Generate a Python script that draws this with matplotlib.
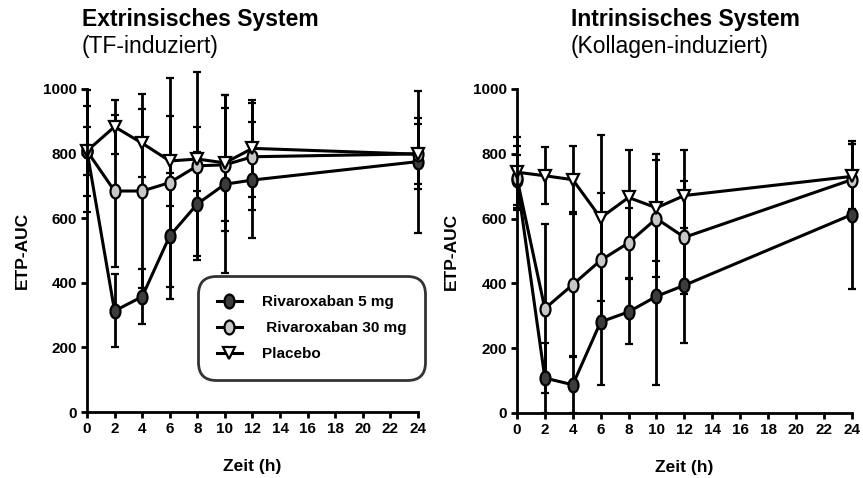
import numpy as np
import matplotlib
matplotlib.use("Agg")
import matplotlib.pyplot as plt
from matplotlib.path import Path
from matplotlib.transforms import Affine2D
from matplotlib.lines import Line2D

plt.rcParams['font.family'] = ['Liberation Sans', 'DejaVu Sans']

# Zeitpunkte (h)
times = [0, 2, 4, 6, 8, 10, 12, 24]

# Extrinsisches System (TF-induziert)
ext_5mg = [808, 313, 357, 545, 644, 705, 718, 775]
ext_5mg_sd = [190, 113, 85, 195, 160, 275, 180, 220]
ext_30mg = [808, 684, 684, 710, 762, 765, 790, 799]
ext_30mg_sd = [140, 235, 300, 323, 290, 175, 165, 110]
ext_placebo = [808, 883, 832, 777, 783, 771, 816, 798]
ext_placebo_sd = [75, 83, 105, 140, 100, 210, 150, 93]

# Intrinsisches System (Kollagen-induziert)
int_5mg = [720, 108, 87, 281, 312, 360, 394, 612]
int_5mg_sd = [77, 108, 88, 195, 100, 275, 177, 228]
int_30mg = [725, 322, 396, 471, 525, 600, 542, 720]
int_30mg_sd = [98, 260, 224, 208, 108, 180, 175, 110]
int_placebo = [743, 732, 720, 602, 665, 633, 671, 730]
int_placebo_sd = [110, 88, 105, 257, 145, 165, 140, 100]

series_labels = ['Rivaroxaban 5 mg', ' Rivaroxaban 30 mg', 'Placebo']

# vertically stretched circle marker
ellipse = Path.unit_circle().transformed(Affine2D().scale(0.72, 1.0))
styles = [
    dict(marker=ellipse, mfc='#3c3c3c', ms=10),
    dict(marker=ellipse, mfc='#c8c8c8', ms=10),
    dict(marker='v', mfc='white', ms=8),
]


def draw_panel(ax, data, title, subtitle, title_x):
    for (vals, sd), st, lab in zip(data, styles, series_labels):
        h = ax.errorbar(times, vals, yerr=sd, color='black', lw=2.2,
                        elinewidth=2, capsize=3, capthick=2,
                        mec='black', mew=1.6, label=lab, **st)
        h.lines[0].set_clip_on(False)
        for art in tuple(h.lines[1]) + tuple(h.lines[2]):
            art.set_clip_on(False)

    ax.set_xlim(0, 24)
    ax.set_ylim(0, 1000)
    ax.set_xticks(range(0, 25, 2))
    ax.set_yticks(range(0, 1001, 200))
    for s in ['top', 'right']:
        ax.spines[s].set_visible(False)
    for s in ['left', 'bottom']:
        ax.spines[s].set_linewidth(2)
    ax.tick_params(width=2, length=4, labelsize=11, pad=3)
    for lbl in ax.get_xticklabels() + ax.get_yticklabels():
        lbl.set_fontweight('bold')
    ax.set_xlabel('Zeit (h)', fontsize=12.5, fontweight='bold', labelpad=17)
    ax.set_ylabel('ETP-AUC', fontsize=12.5, fontweight='bold', labelpad=10)

    fig.text(title_x, 0.960, title, fontsize=16.5, fontweight='bold', va='center')
    fig.text(title_x, 0.903, subtitle, fontsize=16.5, va='center')


fig = plt.figure(figsize=(8.63, 4.78), dpi=100)
ax1 = fig.add_axes([0.1008, 0.138, 0.3835, 0.676])
ax2 = fig.add_axes([0.599, 0.136, 0.388, 0.678])

draw_panel(ax1, [(ext_5mg, ext_5mg_sd), (ext_30mg, ext_30mg_sd),
                 (ext_placebo, ext_placebo_sd)],
           'Extrinsisches System', '(TF-induziert)', 82 / 863)
draw_panel(ax2, [(int_5mg, int_5mg_sd), (int_30mg, int_30mg_sd),
                 (int_placebo, int_placebo_sd)],
           'Intrinsisches System', '(Kollagen-induziert)', 571 / 863)

handles = [Line2D([], [], color='black', lw=2.2, mec='black', mew=1.6, **st)
           for st in styles]
leg = ax1.legend(handles, series_labels, loc='upper left',
                 bbox_to_anchor=(0.352, 0.405),
                 prop={'weight': 'bold', 'size': 11}, handlelength=1.6,
                 labelspacing=0.8, borderpad=0.9, handletextpad=1.3,
                 borderaxespad=0, frameon=True, fancybox=True)
frame = leg.get_frame()
frame.set_edgecolor('black')
frame.set_linewidth(2)
frame.set_boxstyle('round,pad=0.35,rounding_size=1.2')

fig.savefig('out.png', dpi=100)
